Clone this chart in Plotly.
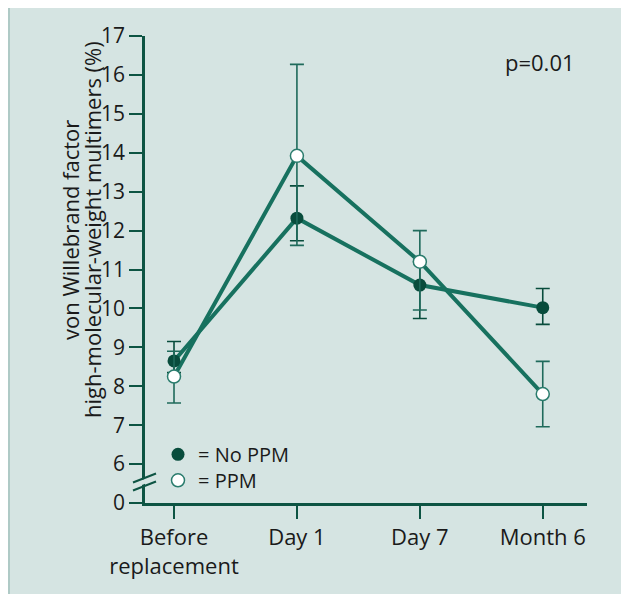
import plotly.graph_objects as go

categories = ["Before<br>replacement", "Day 1", "Day 7", "Month 6"]
no_ppm = [8.65, 12.32, 10.60, 10.02]
no_ppm_upper = [9.15, 13.15, 11.20, 10.51]
no_ppm_lower = [8.35, 11.74, 9.74, 9.59]
ppm = [8.25, 13.92, 11.20, 7.80]
ppm_upper = [8.90, 16.27, 12.00, 8.64]
ppm_lower = [7.57, 11.62, 9.96, 6.96]
y_tickvals = [5, 6, 7, 8, 9, 10, 11, 12, 13, 14, 15, 16, 17]
y_ticktext = ["0", "6", "7", "8", "9", "10", "11", "12", "13", "14", "15", "16", "17"]
title_lines = ["von Willebrand factor", "high-molecular-weight multimers (%)"]

BG = "#d5e4e2"
FRAME = "#afcac6"
AXIS = "#0d5443"
LINE = "#17715f"
DARK = "#084c3c"
OPEN_EDGE = "#2a7c6d"
FONT = "Open Sans"
FS = 22
TXT = "#1a1a1a"

xi = list(range(len(categories)))

fig = go.Figure()
for vals in (no_ppm, ppm):
    fig.add_trace(go.Scatter(x=xi, y=vals, mode="lines",
                             line=dict(color=LINE, width=4),
                             showlegend=False, hoverinfo="skip"))

fig.add_trace(go.Scatter(
    x=xi, y=no_ppm, mode="markers", name="= No PPM", legend="legend",
    marker=dict(size=13, color=DARK, line=dict(width=0)),
    error_y=dict(type="data", symmetric=False,
                 array=[u - v for u, v in zip(no_ppm_upper, no_ppm)],
                 arrayminus=[v - l for v, l in zip(no_ppm, no_ppm_lower)],
                 color=DARK, thickness=1.6, width=7),
))
fig.add_trace(go.Scatter(
    x=xi, y=ppm, mode="markers", name="= PPM", legend="legend2",
    marker=dict(size=13, color="white", line=dict(width=1.5, color=OPEN_EDGE)),
    error_y=dict(type="data", symmetric=False,
                 array=[u - v for u, v in zip(ppm_upper, ppm)],
                 arrayminus=[v - l for v, l in zip(ppm, ppm_lower)],
                 color="#1f6a5b", thickness=1.6, width=7),
))

W, H = 621, 586
L, R, T, B = 137, 42, 28, 91
pw, ph = W - L - R, H - T - B


def px(x):
    return (x - L) / pw


def py(y):
    return (H - B - y) / ph


shapes = [
    dict(type="rect", xref="paper", yref="paper", layer="below",
         x0=px(-5), x1=px(2), y0=py(H + 5), y1=py(-5),
         fillcolor=FRAME, line=dict(width=0)),
    dict(type="path", xref="paper", yref="y", xsizemode="pixel", ysizemode="pixel",
         xanchor=0, yanchor=5.5, layer="above",
         path="M -12 -5 L 11 4 L 11 9 L -12 0 Z",
         fillcolor=BG, line=dict(width=0)),
    dict(type="line", xref="paper", yref="y", xsizemode="pixel", ysizemode="pixel",
         xanchor=0, yanchor=5.5, x0=-12, y0=1, x1=11, y1=10,
         line=dict(color=AXIS, width=2)),
    dict(type="line", xref="paper", yref="y", xsizemode="pixel", ysizemode="pixel",
         xanchor=0, yanchor=5.5, x0=-12, y0=-7, x1=11, y1=2,
         line=dict(color=AXIS, width=2)),
]

annotations = [
    dict(text="p=0.01", xref="paper", yref="paper", x=px(532), y=py(54),
         showarrow=False, xanchor="center", yanchor="middle",
         font=dict(size=FS, color=TXT)),
]
for t, xc in zip(title_lines, (62, 84)):
    annotations.append(dict(text=t, xref="paper", yref="paper", x=px(xc), y=py(222),
                            textangle=-90, showarrow=False, xanchor="center",
                            yanchor="middle", font=dict(size=FS, color=TXT)))

leg_common = dict(xanchor="left", yanchor="top", bgcolor="rgba(0,0,0,0)",
                  font=dict(size=20, color=TXT), itemwidth=30)

fig.update_layout(
    width=W, height=H,
    margin=dict(l=L, r=R, t=T, b=B, pad=0),
    paper_bgcolor=BG, plot_bgcolor=BG,
    font=dict(family=FONT, size=FS, color=TXT),
    shapes=shapes,
    showlegend=True,
    legend=dict(x=px(150), y=py(426.8), **leg_common),
    legend2=dict(x=px(150), y=py(452.8), **leg_common),
    annotations=annotations,
)
fig.update_xaxes(
    range=[-0.236, 3.36], tickvals=xi, ticktext=categories,
    showgrid=False, zeroline=False, showline=True, linecolor=AXIS, linewidth=2.5,
    ticks="outside", ticklen=13, tickwidth=2, tickcolor=AXIS,
    tickfont=dict(size=FS, color=TXT), automargin=False,
)
fig.update_yaxes(
    range=[5, 17], tickvals=y_tickvals, ticktext=y_ticktext,
    showgrid=False, zeroline=False, showline=True, linecolor=AXIS, linewidth=2.5,
    ticks="outside", ticklen=13, tickwidth=2, tickcolor=AXIS,
    tickfont=dict(size=21, color=TXT), automargin=False,
)

fig.write_html("out.html")
